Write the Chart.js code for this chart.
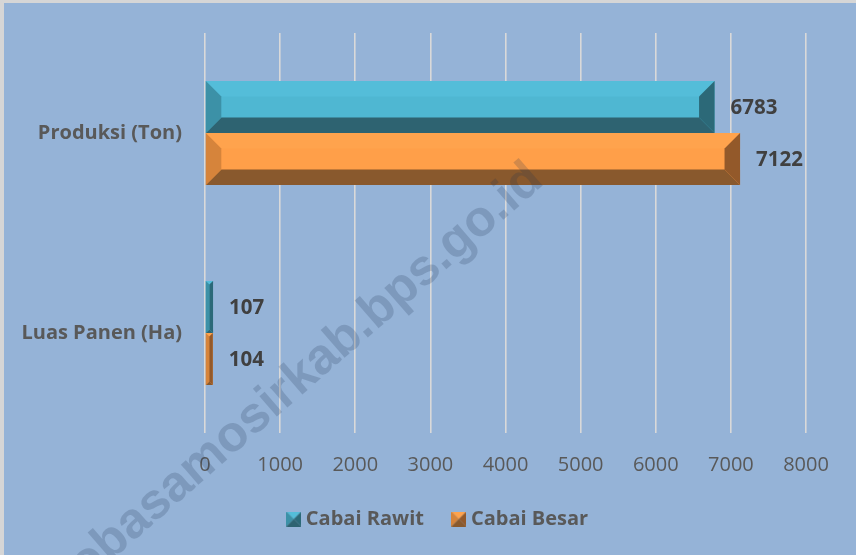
<!DOCTYPE html>
<html><head><meta charset="utf-8">
<script src="https://cdn.jsdelivr.net/npm/chart.js@4.4.0/dist/chart.umd.min.js"></script>
<style>html,body{margin:0;padding:0;background:#fff;}canvas{display:block;}</style>
</head><body>
<canvas id="c" width="856" height="555"></canvas>
<script>
const categories = ["Produksi (Ton)", "Luas Panen (Ha)"];
const seriesNames = ["Cabai Rawit", "Cabai Besar"];
const cabaiRawit = [6783, 107];
const cabaiBesar = [7122, 104];
const xTickValues = [0, 1000, 2000, 3000, 4000, 5000, 6000, 7000, 8000];
const watermarkText = "tobasamosirkab.bps.go.id";

const palettes = [
  {face:'#4FB7D2', top:'#54BDD9', left:'#3C91A7', right:'#2C6978', bottom:'#2E6371'},
  {face:'#FF9F49', top:'#FFA34D', left:'#D6843B', right:'#93592A', bottom:'#89592D'}
];

function makeIcon(p){
  const c = document.createElement('canvas');
  c.width = 15; c.height = 15;
  const g = c.getContext('2d');
  const tri = (pts, col) => { g.beginPath(); g.moveTo(pts[0][0],pts[0][1]); for (let i=1;i<pts.length;i++) g.lineTo(pts[i][0],pts[i][1]); g.closePath(); g.fillStyle=col; g.fill(); };
  tri([[0,0],[15,0],[7.5,7.5]], p.top);
  tri([[0,0],[7.5,7.5],[0,15]], p.left);
  tri([[15,0],[15,15],[7.5,7.5]], p.right);
  tri([[0,15],[15,15],[7.5,7.5]], p.bottom);
  return c;
}
const icons = palettes.map(makeIcon);

const bevelPlugin = {
  id: 'bevel',
  afterLayout(chart){
    const lg = chart.legend;
    if (lg) { lg.left += 70; }
  },
  beforeDraw(chart){
    const ctx = chart.ctx;
    ctx.save();
    ctx.fillStyle = '#D6D6D6';
    ctx.fillRect(0,0,chart.width,chart.height);
    ctx.fillStyle = '#95B3D7';
    ctx.fillRect(4,3,chart.width-4,chart.height-3);
    ctx.restore();
  },
  afterDatasetsDraw(chart){
    const ctx = chart.ctx;
    ctx.save();
    chart.data.datasets.forEach((ds, di) => {
      const meta = chart.getDatasetMeta(di);
      const p = palettes[di];
      meta.data.forEach((el, i) => {
        const {x, y, base, height} = el.getProps(['x','y','base','height'], true);
        const L = Math.min(base, x), R = Math.max(base, x);
        const T = y - height/2, B = y + height/2;
        const b = Math.min(15.5, (R-L)/2, height/2);
        const poly = (pts, col) => { ctx.beginPath(); ctx.moveTo(pts[0][0],pts[0][1]); for (let k=1;k<pts.length;k++) ctx.lineTo(pts[k][0],pts[k][1]); ctx.closePath(); ctx.fillStyle=col; ctx.fill(); };
        poly([[L,T],[R,T],[R-b,T+b],[L+b,T+b]], p.top);
        poly([[L,B],[R,B],[R-b,B-b],[L+b,B-b]], p.bottom);
        poly([[L,T],[L+b,T+b],[L+b,B-b],[L,B]], p.left);
        poly([[R,T],[R-b,T+b],[R-b,B-b],[R,B]], p.right);
        ctx.fillStyle = '#404040';
        ctx.font = 'bold 20.5px "Open Sans"';
        ctx.textAlign = 'left';
        ctx.textBaseline = 'middle';
        ctx.fillText(String(ds.data[i]), R + 16, y + 1);
      });
    });
    ctx.restore();
  },
  afterDraw(chart){
    const ctx = chart.ctx;
    ctx.save();
    ctx.translate(300, 378);
    ctx.rotate(-41 * Math.PI / 180);
    ctx.font = 'bold 50.5px "Liberation Sans"';
    ctx.fillStyle = 'rgba(30,50,80,0.2)';
    ctx.textAlign = 'center';
    ctx.textBaseline = 'middle';
    ctx.fillText(watermarkText, 0, 0);
    ctx.restore();
  }
};

new Chart(document.getElementById('c'), {
  type: 'bar',
  data: {
    labels: categories,
    datasets: [
      {label: seriesNames[0], data: cabaiRawit, backgroundColor: palettes[0].face, borderWidth: 0},
      {label: seriesNames[1], data: cabaiBesar, backgroundColor: palettes[1].face, borderWidth: 0}
    ]
  },
  options: {
    indexAxis: 'y',
    responsive: false,
    animation: false,
    devicePixelRatio: 1,
    datasets: { bar: { categoryPercentage: 0.52, barPercentage: 1.0 } },
    layout: { padding: { left: 4, right: 50, top: 33, bottom: 16 } },
    scales: {
      x: {
        min: xTickValues[0], max: xTickValues[xTickValues.length-1],
        afterBuildTicks(scale){ scale.ticks = xTickValues.map(v => ({value: v})); },
        afterFit(scale){ scale.height = 43; },
        grid: { color: '#D9D9D9', lineWidth: 1.6, drawTicks: false },
        border: { display: false },
        ticks: { color: '#595959', font: { family: '"Open Sans"', size: 20 }, padding: 20,
                 callback: (v) => String(v) }
      },
      y: {
        afterFit(scale){ scale.width = 201; scale.paddingTop = 0; scale.paddingBottom = 0; },
        grid: { display: false, drawTicks: false },
        border: { display: false },
        ticks: { color: '#595959', font: { family: '"Open Sans"', size: 20, weight: 'bold' }, padding: 23 }
      }
    },
    plugins: {
      tooltip: { enabled: false },
      legend: {
        position: 'bottom',
        labels: {
          usePointStyle: true,
          boxWidth: 4,
          padding: 33,
          color: '#595959',
          font: { family: '"Open Sans"', size: 20, weight: 'bold' },
          generateLabels(chart){
            const items = Chart.defaults.plugins.legend.labels.generateLabels(chart);
            items.forEach((it, i) => { it.pointStyle = icons[i]; });
            return items;
          }
        }
      }
    }
  },
  plugins: [bevelPlugin]
});
</script>
</body></html>
